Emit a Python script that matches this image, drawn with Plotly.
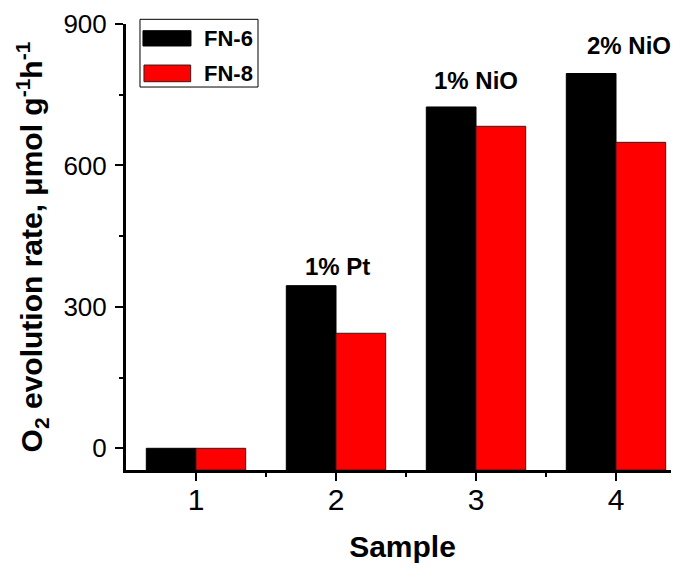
import plotly.graph_objects as go

samples = [1, 2, 3, 4]
fn6 = [0, 345, 724, 795]
fn8 = [0, 244, 683, 649]
series_names = ["FN-6", "FN-8"]
label_text = ["1% Pt", "1% NiO", "2% NiO"]
label_x = [2.01, 3.0, 4.09]
label_y = [385, 780, 854]

Y_MIN, Y_MAX = -46, 900
X_MIN, X_MAX = 0.5, 4.45

FONT = "Arial, Liberation Sans, sans-serif"

fig = go.Figure()
fig.add_bar(x=samples, y=[v - Y_MIN for v in fn6], base=Y_MIN, name=series_names[0],
            marker=dict(color="#000000", line=dict(color="#000000", width=1)),
            customdata=fn6, hovertemplate="%{customdata}<extra>FN-6</extra>")
fig.add_bar(x=samples, y=[v - Y_MIN for v in fn8], base=Y_MIN, name=series_names[1],
            marker=dict(color="#ff0000", line=dict(color="#3a1a1a", width=1)),
            customdata=fn8, hovertemplate="%{customdata}<extra>FN-8</extra>")

annotations = []
for t, x, y in zip(label_text, label_x, label_y):
    annotations.append(dict(x=x, y=y, xref="x", yref="y", text="<b>%s</b>" % t,
                            showarrow=False, font=dict(size=24, color="black", family=FONT),
                            xanchor="center", yanchor="middle"))

# custom legend (wide swatches as in the reference)
shapes = [
    dict(type="rect", xref="paper", yref="paper", x0=0.0253, x1=0.2387, y0=0.8587, y1=1.0105,
         line=dict(color="black", width=1), fillcolor="white", layer="above"),
    dict(type="rect", xref="paper", yref="paper", x0=0.0307, x1=0.1175, y0=0.9507, y1=0.985,
         line=dict(color="black", width=1), fillcolor="#000000", layer="above"),
    dict(type="rect", xref="paper", yref="paper", x0=0.0325, x1=0.1170, y0=0.8706, y1=0.908,
         line=dict(color="#3a1a1a", width=1), fillcolor="#ff0000", layer="above"),
]
for name, ypos in zip(series_names, [0.968, 0.889]):
    annotations.append(dict(x=0.137, y=ypos, xref="paper", yref="paper", text="<b>%s</b>" % name,
                            showarrow=False, font=dict(size=22, color="black", family=FONT),
                            xanchor="left", yanchor="middle"))

# the page body adds an 8px offset, so the figure is 8px smaller and margins are shifted
fig.update_layout(
    width=671, height=563,
    margin=dict(l=118, r=0, t=16, b=101, autoexpand=False),
    paper_bgcolor="white", plot_bgcolor="white",
    barmode="group", bargap=0.29, bargroupgap=0,
    showlegend=False,
    font=dict(family=FONT, color="black"),
    annotations=annotations,
    shapes=shapes,
)
fig.update_xaxes(range=[X_MIN, X_MAX], tickvals=samples, ticktext=[str(s) for s in samples],
                 automargin=False,
                 showgrid=False, zeroline=False, showline=True, linecolor="black", linewidth=3,
                 ticks="outside", ticklen=8, tickwidth=2, tickcolor="black",
                 ticklabelstandoff=-7,
                 tickfont=dict(size=30, family=FONT, color="black"),
                 minor=dict(tickvals=[1.5, 2.5, 3.5], ticks="outside", ticklen=4, tickwidth=2, tickcolor="black"),
                 title=dict(text="<b>Sample</b>", font=dict(size=30, family=FONT, color="black"), standoff=21))
fig.update_yaxes(range=[Y_MIN, Y_MAX], tickvals=[0, 300, 600, 900],
                 automargin=False,
                 showgrid=False, zeroline=False, showline=True, linecolor="black", linewidth=3,
                 ticks="outside", ticklen=8, tickwidth=2, tickcolor="black",
                 ticklabelstandoff=3,
                 tickfont=dict(size=26, family=FONT, color="black"),
                 minor=dict(tickvals=[150, 450, 750], ticks="outside", ticklen=4, tickwidth=2, tickcolor="black"),
                 title=dict(text="<b>O<sub>2</sub> evolution rate, μmol g<sup>-1</sup>h<sup>-1</sup></b>",
                            font=dict(size=30, family=FONT, color="black"), standoff=12))

fig.write_html("out.html")
